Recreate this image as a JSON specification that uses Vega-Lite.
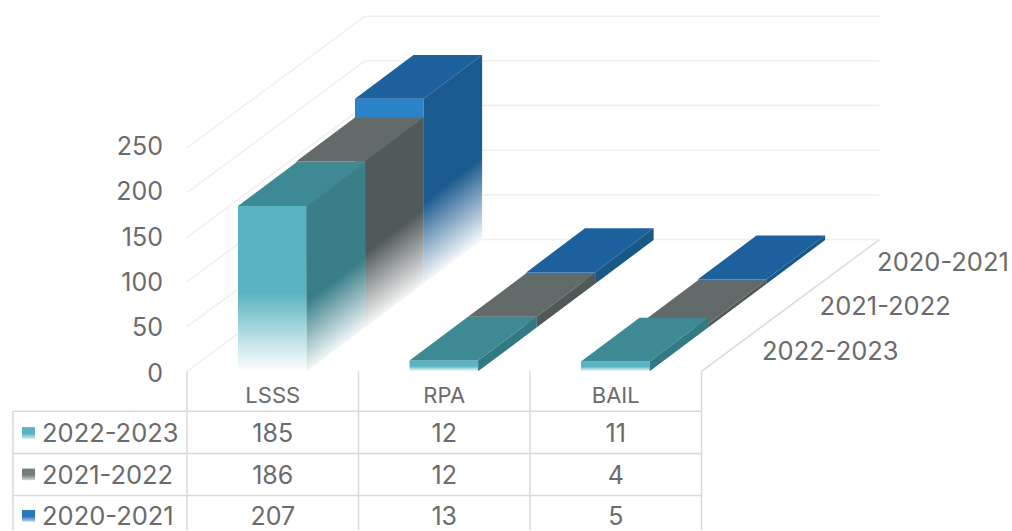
{
  "$schema": "https://vega.github.io/schema/vega-lite/v6.json",
  "width": 1012,
  "height": 531,
  "padding": 0,
  "autosize": {"type": "fit", "contains": "padding"},
  "background": "#ffffff",
  "config": {"view": {"stroke": null}, "text": {"font": "Inter", "color": "#6b6b6b"}},
  "datasets": {
    "bars": [
      {"category": "LSSS", "series": "2022-2023", "value": 185},
      {"category": "RPA", "series": "2022-2023", "value": 12},
      {"category": "BAIL", "series": "2022-2023", "value": 11},
      {"category": "LSSS", "series": "2021-2022", "value": 186},
      {"category": "RPA", "series": "2021-2022", "value": 12},
      {"category": "BAIL", "series": "2021-2022", "value": 4},
      {"category": "LSSS", "series": "2020-2021", "value": 207},
      {"category": "RPA", "series": "2020-2021", "value": 13},
      {"category": "BAIL", "series": "2020-2021", "value": 5}
    ],
    "ticks": [{"tick": 0}, {"tick": 50}, {"tick": 100}, {"tick": 150}, {"tick": 200}, {"tick": 250}],
    "series": [{"series": "2022-2023", "s": 0}, {"series": "2021-2022", "s": 1}, {"series": "2020-2021", "s": 2}],
    "categories": [{"category": "LSSS", "c": 0}, {"category": "RPA", "c": 1}, {"category": "BAIL", "c": 2}],
    "columns": [{"col": -1.015}, {"col": 0}, {"col": 1}, {"col": 2}, {"col": 3}]
  },
  "layer": [
    {
      "data": {"name": "ticks"},
      "transform": [{"calculate": "0", "as": "x0"}, {"calculate": "1.038", "as": "x1"}, {"calculate": "datum.tick + 147.5", "as": "yb"}],
      "mark": {"type": "rule", "color": "#f0f0f0", "strokeWidth": 1.5},
      "encoding": {
        "x": {"field": "x0", "type": "quantitative", "axis": null, "scale": {"domain": [-1.09038, 4.8105], "nice": false, "zero": false}},
        "x2": {"field": "x1"},
        "y": {"field": "tick", "type": "quantitative", "axis": null, "scale": {"domain": [-177.65, 415.64], "nice": false, "zero": false}},
        "y2": {"field": "yb"}
      }
    },
    {
      "data": {"name": "ticks"},
      "transform": [{"calculate": "1.038", "as": "x1"}, {"calculate": "4.038", "as": "x2"}, {"calculate": "datum.tick + 147.5", "as": "yb"}],
      "mark": {"type": "rule", "color": "#f0f0f0", "strokeWidth": 1.5},
      "encoding": {
        "x": {"field": "x1", "type": "quantitative", "axis": null, "scale": {"domain": [-1.09038, 4.8105], "nice": false, "zero": false}},
        "x2": {"field": "x2"},
        "y": {"field": "yb", "type": "quantitative", "axis": null, "scale": {"domain": [-177.65, 415.64], "nice": false, "zero": false}}
      }
    },
    {
      "data": {"values": [{"edge": "floor"}]},
      "transform": [{"calculate": "3", "as": "x0"}, {"calculate": "4.038", "as": "x1"}, {"calculate": "0", "as": "y0"}, {"calculate": "147.5", "as": "y1"}],
      "mark": {"type": "rule", "color": "#dcdcdc", "strokeWidth": 1.5},
      "encoding": {
        "x": {"field": "x0", "type": "quantitative", "axis": null, "scale": {"domain": [-1.09038, 4.8105], "nice": false, "zero": false}},
        "x2": {"field": "x1"},
        "y": {"field": "y0", "type": "quantitative", "axis": null, "scale": {"domain": [-177.65, 415.64], "nice": false, "zero": false}},
        "y2": {"field": "y1"}
      }
    },
    {
      "data": {"name": "columns"},
      "transform": [{"calculate": "datum.col < 0 ? -44.7 : 0", "as": "y0"}, {"calculate": "-177.65", "as": "y1"}],
      "mark": {"type": "rule", "color": "#d9d9d9", "strokeWidth": 1.5},
      "encoding": {
        "x": {"field": "col", "type": "quantitative", "axis": null, "scale": {"domain": [-1.09038, 4.8105], "nice": false, "zero": false}},
        "y": {"field": "y0", "type": "quantitative", "axis": null, "scale": {"domain": [-177.65, 415.64], "nice": false, "zero": false}},
        "y2": {"field": "y1"}
      }
    },
    {
      "data": {"name": "series"},
      "transform": [{"calculate": "-1.015", "as": "x0"}, {"calculate": "3", "as": "x1"}, {"calculate": "-44.7 - datum.s * 47.2", "as": "y0"}],
      "mark": {"type": "rule", "color": "#d9d9d9", "strokeWidth": 1.5},
      "encoding": {
        "x": {"field": "x0", "type": "quantitative", "axis": null, "scale": {"domain": [-1.09038, 4.8105], "nice": false, "zero": false}},
        "x2": {"field": "x1"},
        "y": {"field": "y0", "type": "quantitative", "axis": null, "scale": {"domain": [-177.65, 415.64], "nice": false, "zero": false}}
      }
    },
    {
      "data": {"name": "bars"},
      "transform": [
        {"calculate": "indexof(['LSSS','RPA','BAIL'], datum.category)", "as": "c"},
        {"calculate": "indexof(['2022-2023','2021-2022','2020-2021'], datum.series)", "as": "s"},
        {"fold": ["near", "far"], "as": ["edge", "edgeName"]},
        {"calculate": "datum.s + (datum.edge === 'far' ? 1 : 0)", "as": "d"},
        {"calculate": "datum.c + 0.2974 + datum.d * 0.3411", "as": "xl"},
        {"calculate": "datum.xl + 0.4", "as": "xr"},
        {"calculate": "datum.d * 49", "as": "base"},
        {"calculate": "datum.base + datum.value", "as": "top"}
      ],
      "layer": [
        {
          "transform": [{"filter": "datum.s === 2 && datum.edge === 'near'"}],
          "mark": {"type": "rect", "fill": {"gradient": "linear", "x1": 0, "y1": 0, "x2": 0, "y2": 1, "stops": [{"offset": 0, "color": "#2a82c8"}, {"offset": 0.55, "color": "#2a82c8"}, {"offset": 1, "color": "#ffffff"}]}},
          "encoding": {
            "x": {"field": "xl", "type": "quantitative", "axis": null, "scale": {"domain": [-1.09038, 4.8105], "nice": false, "zero": false}},
            "x2": {"field": "xr"},
            "y": {"field": "base", "type": "quantitative", "axis": null, "scale": {"domain": [-177.65, 415.64], "nice": false, "zero": false}},
            "y2": {"field": "top"}
          }
        },
        {
          "transform": [{"filter": "datum.s === 2"}],
          "mark": {"type": "area", "orient": "horizontal", "fill": "#1c609e"},
          "encoding": {
            "y": {"field": "top", "type": "quantitative", "axis": null, "scale": {"domain": [-177.65, 415.64], "nice": false, "zero": false}},
            "x": {"field": "xl", "type": "quantitative", "axis": null, "stack": null, "scale": {"domain": [-1.09038, 4.8105], "nice": false, "zero": false}},
            "x2": {"field": "xr"},
            "detail": {"field": "c"}
          }
        },
        {
          "transform": [{"filter": "datum.s === 2 && datum.c === 0"}],
          "mark": {"type": "area", "orient": "vertical", "fill": {"gradient": "linear", "x1": 0, "y1": 0, "x2": 0.2, "y2": 1, "stops": [{"offset": 0, "color": "#1b5a8e"}, {"offset": 0.62, "color": "#1b5a8e"}, {"offset": 0.98, "color": "#ffffff"}]}},
          "encoding": {
            "x": {"field": "xr", "type": "quantitative", "axis": null, "scale": {"domain": [-1.09038, 4.8105], "nice": false, "zero": false}},
            "y": {"field": "base", "type": "quantitative", "axis": null, "stack": null, "scale": {"domain": [-177.65, 415.64], "nice": false, "zero": false}},
            "y2": {"field": "top"},
            "detail": {"field": "c"}
          }
        },
        {
          "transform": [{"filter": "datum.s === 2 && datum.c > 0"}],
          "mark": {"type": "area", "orient": "vertical", "fill": "#185885"},
          "encoding": {
            "x": {"field": "xr", "type": "quantitative", "axis": null, "scale": {"domain": [-1.09038, 4.8105], "nice": false, "zero": false}},
            "y": {"field": "base", "type": "quantitative", "axis": null, "stack": null, "scale": {"domain": [-177.65, 415.64], "nice": false, "zero": false}},
            "y2": {"field": "top"},
            "detail": {"field": "c"}
          }
        },
        {
          "transform": [{"filter": "datum.s === 1 && datum.edge === 'near'"}],
          "mark": {"type": "rect", "fill": {"gradient": "linear", "x1": 0, "y1": 0, "x2": 0, "y2": 1, "stops": [{"offset": 0, "color": "#7b8585"}, {"offset": 0.55, "color": "#7b8585"}, {"offset": 1, "color": "#ffffff"}]}},
          "encoding": {
            "x": {"field": "xl", "type": "quantitative", "axis": null, "scale": {"domain": [-1.09038, 4.8105], "nice": false, "zero": false}},
            "x2": {"field": "xr"},
            "y": {"field": "base", "type": "quantitative", "axis": null, "scale": {"domain": [-177.65, 415.64], "nice": false, "zero": false}},
            "y2": {"field": "top"}
          }
        },
        {
          "transform": [{"filter": "datum.s === 1"}],
          "mark": {"type": "area", "orient": "horizontal", "fill": "#626a6a"},
          "encoding": {
            "y": {"field": "top", "type": "quantitative", "axis": null, "scale": {"domain": [-177.65, 415.64], "nice": false, "zero": false}},
            "x": {"field": "xl", "type": "quantitative", "axis": null, "stack": null, "scale": {"domain": [-1.09038, 4.8105], "nice": false, "zero": false}},
            "x2": {"field": "xr"},
            "detail": {"field": "c"}
          }
        },
        {
          "transform": [{"filter": "datum.s === 1 && datum.c === 0"}],
          "mark": {"type": "area", "orient": "vertical", "fill": {"gradient": "linear", "x1": 0, "y1": 0, "x2": 0.21, "y2": 1, "stops": [{"offset": 0, "color": "#515a5a"}, {"offset": 0.62, "color": "#515a5a"}, {"offset": 0.98, "color": "#ffffff"}]}},
          "encoding": {
            "x": {"field": "xr", "type": "quantitative", "axis": null, "scale": {"domain": [-1.09038, 4.8105], "nice": false, "zero": false}},
            "y": {"field": "base", "type": "quantitative", "axis": null, "stack": null, "scale": {"domain": [-177.65, 415.64], "nice": false, "zero": false}},
            "y2": {"field": "top"},
            "detail": {"field": "c"}
          }
        },
        {
          "transform": [{"filter": "datum.s === 1 && datum.c > 0"}],
          "mark": {"type": "area", "orient": "vertical", "fill": "#505858"},
          "encoding": {
            "x": {"field": "xr", "type": "quantitative", "axis": null, "scale": {"domain": [-1.09038, 4.8105], "nice": false, "zero": false}},
            "y": {"field": "base", "type": "quantitative", "axis": null, "stack": null, "scale": {"domain": [-177.65, 415.64], "nice": false, "zero": false}},
            "y2": {"field": "top"},
            "detail": {"field": "c"}
          }
        },
        {
          "transform": [{"filter": "datum.s === 0 && datum.edge === 'near'"}],
          "mark": {"type": "rect", "fill": {"gradient": "linear", "x1": 0, "y1": 0, "x2": 0, "y2": 1, "stops": [{"offset": 0, "color": "#58b4c0"}, {"offset": 0.52, "color": "#58b4c0"}, {"offset": 1, "color": "#ffffff"}]}},
          "encoding": {
            "x": {"field": "xl", "type": "quantitative", "axis": null, "scale": {"domain": [-1.09038, 4.8105], "nice": false, "zero": false}},
            "x2": {"field": "xr"},
            "y": {"field": "base", "type": "quantitative", "axis": null, "scale": {"domain": [-177.65, 415.64], "nice": false, "zero": false}},
            "y2": {"field": "top"}
          }
        },
        {
          "transform": [{"filter": "datum.s === 0"}],
          "mark": {"type": "area", "orient": "horizontal", "fill": "#3e8a94"},
          "encoding": {
            "y": {"field": "top", "type": "quantitative", "axis": null, "scale": {"domain": [-177.65, 415.64], "nice": false, "zero": false}},
            "x": {"field": "xl", "type": "quantitative", "axis": null, "stack": null, "scale": {"domain": [-1.09038, 4.8105], "nice": false, "zero": false}},
            "x2": {"field": "xr"},
            "detail": {"field": "c"}
          }
        },
        {
          "transform": [{"filter": "datum.s === 0 && datum.c === 0"}],
          "mark": {"type": "area", "orient": "vertical", "fill": {"gradient": "linear", "x1": 0, "y1": 0, "x2": 0.21, "y2": 1, "stops": [{"offset": 0, "color": "#3a7f88"}, {"offset": 0.64, "color": "#3a7f88"}, {"offset": 0.98, "color": "#ffffff"}]}},
          "encoding": {
            "x": {"field": "xr", "type": "quantitative", "axis": null, "scale": {"domain": [-1.09038, 4.8105], "nice": false, "zero": false}},
            "y": {"field": "base", "type": "quantitative", "axis": null, "stack": null, "scale": {"domain": [-177.65, 415.64], "nice": false, "zero": false}},
            "y2": {"field": "top"},
            "detail": {"field": "c"}
          }
        },
        {
          "transform": [{"filter": "datum.s === 0 && datum.c > 0"}],
          "mark": {"type": "area", "orient": "vertical", "fill": "#337984"},
          "encoding": {
            "x": {"field": "xr", "type": "quantitative", "axis": null, "scale": {"domain": [-1.09038, 4.8105], "nice": false, "zero": false}},
            "y": {"field": "base", "type": "quantitative", "axis": null, "stack": null, "scale": {"domain": [-177.65, 415.64], "nice": false, "zero": false}},
            "y2": {"field": "top"},
            "detail": {"field": "c"}
          }
        },
        {
          "transform": [
            {"filter": "datum.edge === 'near'"},
            {"calculate": "datum.c + 0.5", "as": "cx"},
            {"calculate": "-70.6 - datum.s * 46.4", "as": "rowY"}
          ],
          "mark": {"type": "text", "fontSize": 25, "baseline": "middle", "align": "center"},
          "encoding": {
            "x": {"field": "cx", "type": "quantitative", "axis": null, "scale": {"domain": [-1.09038, 4.8105], "nice": false, "zero": false}},
            "y": {"field": "rowY", "type": "quantitative", "axis": null, "scale": {"domain": [-177.65, 415.64], "nice": false, "zero": false}},
            "text": {"field": "value", "type": "nominal"}
          }
        }
      ]
    },
    {
      "data": {"name": "ticks"},
      "transform": [{"calculate": "-0.14", "as": "lx"}, {"calculate": "datum.tick * 1.015 - 2.5", "as": "ly"}],
      "mark": {"type": "text", "fontSize": 25, "baseline": "middle", "align": "right"},
      "encoding": {
        "x": {"field": "lx", "type": "quantitative", "axis": null, "scale": {"domain": [-1.09038, 4.8105], "nice": false, "zero": false}},
        "y": {"field": "ly", "type": "quantitative", "axis": null, "scale": {"domain": [-177.65, 415.64], "nice": false, "zero": false}},
        "text": {"field": "tick", "type": "nominal"}
      }
    },
    {
      "data": {"name": "categories"},
      "transform": [{"calculate": "datum.c + 0.5", "as": "cx"}, {"calculate": "-28", "as": "cy"}],
      "mark": {"type": "text", "fontSize": 22, "baseline": "middle", "align": "center"},
      "encoding": {
        "x": {"field": "cx", "type": "quantitative", "axis": null, "scale": {"domain": [-1.09038, 4.8105], "nice": false, "zero": false}},
        "y": {"field": "cy", "type": "quantitative", "axis": null, "scale": {"domain": [-177.65, 415.64], "nice": false, "zero": false}},
        "text": {"field": "category", "type": "nominal"}
      }
    },
    {
      "data": {"name": "series"},
      "transform": [{"calculate": "-0.8455", "as": "lx"}, {"calculate": "-70.6 - datum.s * 46.4", "as": "rowY"}],
      "mark": {"type": "text", "fontSize": 25.5, "baseline": "middle", "align": "left"},
      "encoding": {
        "x": {"field": "lx", "type": "quantitative", "axis": null, "scale": {"domain": [-1.09038, 4.8105], "nice": false, "zero": false}},
        "y": {"field": "rowY", "type": "quantitative", "axis": null, "scale": {"domain": [-177.65, 415.64], "nice": false, "zero": false}},
        "text": {"field": "series", "type": "nominal"}
      }
    },
    {
      "data": {"name": "series"},
      "transform": [{"calculate": "3.353 + datum.s * 0.3355", "as": "lx"}, {"calculate": "22 + datum.s * 49.7", "as": "ly"}],
      "mark": {"type": "text", "fontSize": 25.5, "baseline": "middle", "align": "left"},
      "encoding": {
        "x": {"field": "lx", "type": "quantitative", "axis": null, "scale": {"domain": [-1.09038, 4.8105], "nice": false, "zero": false}},
        "y": {"field": "ly", "type": "quantitative", "axis": null, "scale": {"domain": [-177.65, 415.64], "nice": false, "zero": false}},
        "text": {"field": "series", "type": "nominal"}
      }
    },
    {
      "data": {"name": "series"},
      "transform": [
        {"filter": "datum.s === 0"},
        {"calculate": "-0.962", "as": "x0"}, {"calculate": "-0.886", "as": "x1"},
        {"calculate": "-69 - datum.s * 46.4 + 6.5", "as": "y0"}, {"calculate": "-69 - datum.s * 46.4 - 6.5", "as": "y1"}
      ],
      "mark": {"type": "rect", "fill": {"gradient": "linear", "x1": 0, "y1": 0, "x2": 0, "y2": 1, "stops": [{"offset": 0, "color": "#58b4c0"}, {"offset": 0.55, "color": "#58b4c0"}, {"offset": 1, "color": "#cfe8ec"}]}},
      "encoding": {
        "x": {"field": "x0", "type": "quantitative", "axis": null, "scale": {"domain": [-1.09038, 4.8105], "nice": false, "zero": false}},
        "x2": {"field": "x1"},
        "y": {"field": "y0", "type": "quantitative", "axis": null, "scale": {"domain": [-177.65, 415.64], "nice": false, "zero": false}},
        "y2": {"field": "y1"}
      }
    },
    {
      "data": {"name": "series"},
      "transform": [
        {"filter": "datum.s === 1"},
        {"calculate": "-0.962", "as": "x0"}, {"calculate": "-0.886", "as": "x1"},
        {"calculate": "-69 - datum.s * 46.4 + 6.5", "as": "y0"}, {"calculate": "-69 - datum.s * 46.4 - 6.5", "as": "y1"}
      ],
      "mark": {"type": "rect", "fill": {"gradient": "linear", "x1": 0, "y1": 0, "x2": 0, "y2": 1, "stops": [{"offset": 0, "color": "#757d7d"}, {"offset": 0.55, "color": "#757d7d"}, {"offset": 1, "color": "#d5d8d8"}]}},
      "encoding": {
        "x": {"field": "x0", "type": "quantitative", "axis": null, "scale": {"domain": [-1.09038, 4.8105], "nice": false, "zero": false}},
        "x2": {"field": "x1"},
        "y": {"field": "y0", "type": "quantitative", "axis": null, "scale": {"domain": [-177.65, 415.64], "nice": false, "zero": false}},
        "y2": {"field": "y1"}
      }
    },
    {
      "data": {"name": "series"},
      "transform": [
        {"filter": "datum.s === 2"},
        {"calculate": "-0.962", "as": "x0"}, {"calculate": "-0.886", "as": "x1"},
        {"calculate": "-69 - datum.s * 46.4 + 6.5", "as": "y0"}, {"calculate": "-69 - datum.s * 46.4 - 6.5", "as": "y1"}
      ],
      "mark": {"type": "rect", "fill": {"gradient": "linear", "x1": 0, "y1": 0, "x2": 0, "y2": 1, "stops": [{"offset": 0, "color": "#2a78ba"}, {"offset": 0.55, "color": "#2a78ba"}, {"offset": 1, "color": "#bcd6ea"}]}},
      "encoding": {
        "x": {"field": "x0", "type": "quantitative", "axis": null, "scale": {"domain": [-1.09038, 4.8105], "nice": false, "zero": false}},
        "x2": {"field": "x1"},
        "y": {"field": "y0", "type": "quantitative", "axis": null, "scale": {"domain": [-177.65, 415.64], "nice": false, "zero": false}},
        "y2": {"field": "y1"}
      }
    }
  ]
}
